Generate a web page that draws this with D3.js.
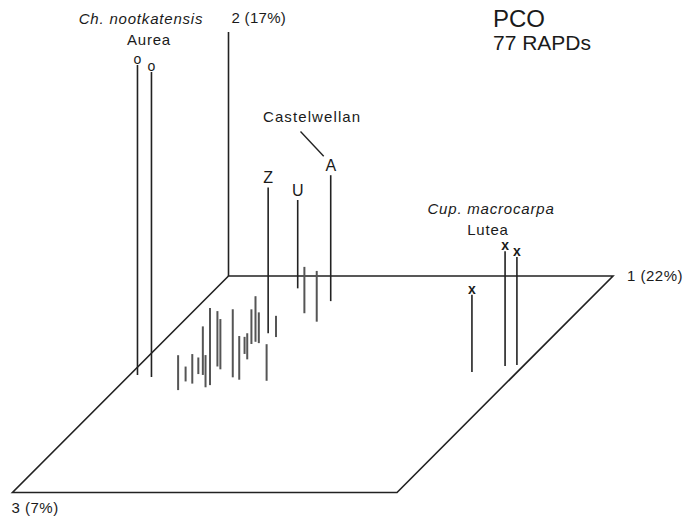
<!DOCTYPE html>
<html>
<head>
<meta charset="utf-8">
<script src="https://cdn.jsdelivr.net/npm/d3@7"></script>
<style>
  body { margin: 0; background: #fff; }
  svg text { font-family: Arial, "Liberation Sans", Helvetica, sans-serif; fill: #1a1a1a; }
</style>
</head>
<body>
<div id="chart"></div>
<script>
// PCO scores, scaled to the plotted box (0..1 on each axis)
var names = ['o1', 'o2', 'Z', 'U', 'A', 'x1', 'x2', 'x3',
  'a', 'b', 'c', 'd', 'e', 'f', 'g', 'h', 'i', 'j', 'k', 'l', 'm', 'n', 'p', 'q', 'r', 's', 't', 'v'];
var pc1 = [0.020, 0.062, 0.252, 0.212, 0.331, 0.953, 0.981, 0.882,
  0.165, 0.162, 0.185, 0.176, 0.190, 0.229, 0.235, 0.206, 0.221, 0.274, 0.297, 0.244, 0.265, 0.236, 0.241, 0.253, 0.371, 0.282, 0.294, 0.348];
var pc2 = [1.270, 1.250, 0.598, 0.362, 0.516, 0.471, 0.443, 0.316,
  0.143, 0.061, 0.121, 0.068, 0.199, 0.132, 0.316, 0.227, 0.206, 0.279, 0.179, 0.070, 0.107, 0.142, 0.187, 0.126, 0.150, 0.087, 0.190, 0.208];
var pc3 = [0.457, 0.467, 0.265, 0.057, 0.116, 0.416, 0.411, 0.443,
  0.527, 0.487, 0.497, 0.453, 0.457, 0.514, 0.504, 0.418, 0.431, 0.468, 0.479, 0.360, 0.385, 0.314, 0.304, 0.310, 0.484, 0.282, 0.172, 0.211];
// marker glyph drawn on top of the stem ('' = none)
var markers = ['o', 'o', 'Z', 'U', 'A', 'x', 'x', 'x',
  '', '', '', '', '', '', '', '', '', '', '', '', '', '', '', '', '', '', '', ''];
var axisLabels = ['1 (22%)', '2 (17%)', '3 (7%)'];

var width = 684, height = 517;

var svg = d3.select('#chart').append('svg')
  .attr('width', width)
  .attr('height', height);

// oblique projection: axis 1 to the right, axis 3 towards the viewer (down-left), axis 2 up
var x1 = d3.scaleLinear().domain([0, 1]).range([228.5, 613]);
var dx3 = d3.scaleLinear().domain([0, 1]).range([0, -216]);
var y3 = d3.scaleLinear().domain([0, 1]).range([276, 492.5]);
var h2 = d3.scaleLinear().domain([0, 1]).range([0, 244]);

function proj(a, c, b) {
  return [x1(a) + dx3(c), y3(c) - h2(b)];
}

var pts = names.map(function(n, i) {
  var base = proj(pc1[i], pc3[i], 0),
      top = proj(pc1[i], pc3[i], pc2[i]);
  return { name: n, base: base, top: top, mark: markers[i] };
});

var ink = '#222';

// floor of the box
var floor = [proj(0, 0, 0), proj(1, 0, 0), proj(1, 1, 0), proj(0, 1, 0)];
svg.append('path')
  .attr('d', d3.line()(floor) + 'Z')
  .attr('fill', 'none')
  .attr('stroke', ink)
  .attr('stroke-width', 1.6);

// vertical axis 2
var o = proj(0, 0, 0), t2 = proj(0, 0, 1);
svg.append('line')
  .attr('x1', o[0]).attr('y1', o[1])
  .attr('x2', t2[0]).attr('y2', t2[1])
  .attr('stroke', ink)
  .attr('stroke-width', 1.6);

// stems
svg.selectAll('line.stem')
  .data(pts)
  .enter().append('line')
  .attr('class', 'stem')
  .attr('x1', function(d) { return d.base[0]; })
  .attr('y1', function(d) { return d.base[1]; })
  .attr('x2', function(d) { return d.top[0]; })
  .attr('y2', function(d) { return d.top[1]; })
  .attr('stroke', function(d) { return d.mark ? ink : '#555'; })
  .attr('stroke-width', function(d) { return d.mark ? 1.6 : 2; });

// markers on top of the stems
svg.selectAll('text.mark')
  .data(pts.filter(function(d) { return d.mark; }))
  .enter().append('text')
  .attr('class', 'mark')
  .attr('x', function(d) { return d.top[0]; })
  .attr('y', function(d) { return d.top[1] - (d.mark === 'o' || d.mark === 'x' ? 1 : 4); })
  .attr('text-anchor', 'middle')
  .style('font-size', function(d) { return d.mark === 'o' || d.mark === 'x' ? '14px' : '16px'; })
  .style('font-weight', function(d) { return d.mark === 'x' ? 'bold' : 'normal'; })
  .text(function(d) { return d.mark; });

// axis labels
var a1 = proj(1, 0, 0), a3 = proj(0, 1, 0);
svg.append('text').attr('x', a1[0] + 14).attr('y', a1[1] + 5)
  .style('font-size', '15px').style('letter-spacing', '0.5px').text(axisLabels[0]);
svg.append('text').attr('x', t2[0] + 3).attr('y', t2[1] - 9)
  .style('font-size', '15px').style('letter-spacing', '0.3px').text(axisLabels[1]);
svg.append('text').attr('x', a3[0] - 1).attr('y', a3[1] + 20)
  .style('font-size', '15px').style('letter-spacing', '0.5px').text(axisLabels[2]);

// title
svg.append('text').attr('x', 493).attr('y', 27)
  .style('font-size', '24px').text('PCO');
svg.append('text').attr('x', 493).attr('y', 50)
  .style('font-size', '21px').text('77 RAPDs');

// group labels
var lab = svg.append('g').style('font-size', '15px').style('letter-spacing', '0.8px');
lab.append('text').attr('x', 141).attr('y', 24).attr('text-anchor', 'middle')
  .style('font-style', 'italic').text('Ch. nootkatensis');
lab.append('text').attr('x', 149).attr('y', 45).attr('text-anchor', 'middle').text('Aurea');
lab.append('text').attr('x', 491).attr('y', 214).attr('text-anchor', 'middle')
  .style('font-style', 'italic').text('Cup. macrocarpa');
lab.append('text').attr('x', 488).attr('y', 235).attr('text-anchor', 'middle').text('Lutea');
lab.append('text').attr('x', 263).attr('y', 122).style('letter-spacing', '1.1px').text('Castelwellan');

// leader from Castelwellan to A
var pA = pts[names.indexOf('A')];
svg.append('line')
  .attr('x1', 300.5).attr('y1', 131.5)
  .attr('x2', pA.top[0] - 7).attr('y2', pA.top[1] - 19)
  .attr('stroke', ink)
  .attr('stroke-width', 1.4);
</script>
</body>
</html>
